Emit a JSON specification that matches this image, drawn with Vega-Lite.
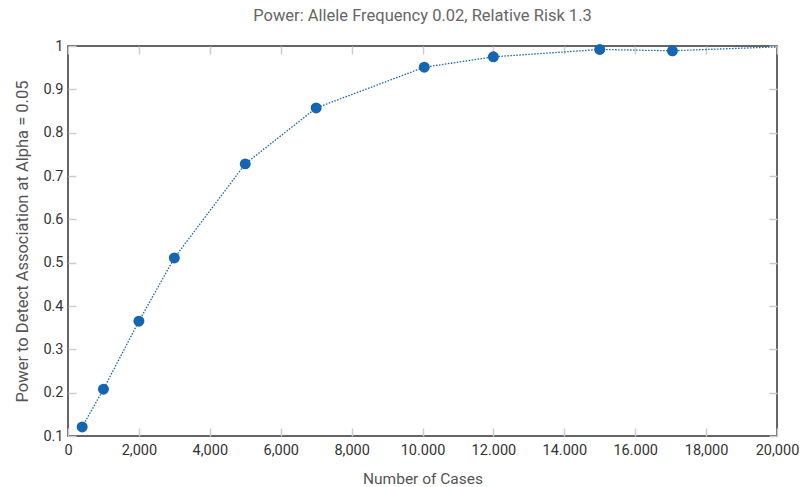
{
  "$schema": "https://vega.github.io/schema/vega-lite/v6.json",
  "width": 709,
  "height": 390,
  "autosize": {"type": "none"},
  "padding": {"left": 68, "top": 46, "right": 23, "bottom": 51},
  "background": "white",
  "title": {
    "text": "Power: Allele Frequency 0.02, Relative Risk 1.3",
    "font": "Roboto",
    "fontSize": 16.5,
    "fontWeight": "normal",
    "color": "#666666",
    "anchor": "middle",
    "offset": 14
  },
  "config": {
    "font": "Roboto",
    "view": {"stroke": "#333333", "strokeWidth": 1.5},
    "axis": {
      "grid": false,
      "domain": false,
      "labelFlush": false,
      "tickColor": "#cccccc",
      "tickWidth": 1.5,
      "tickSize": -8,
      "labelFont": "Roboto",
      "labelFontSize": 14.5,
      "labelColor": "#333333",
      "titleFont": "Roboto",
      "titleFontSize": 15.5,
      "titleFontWeight": "normal",
      "titleColor": "#555555"
    }
  },
  "data": {
    "values": [
      {"cases": 400, "power": 0.121, "marker": true},
      {"cases": 1000, "power": 0.208, "marker": true},
      {"cases": 2000, "power": 0.365, "marker": true},
      {"cases": 3000, "power": 0.511, "marker": true},
      {"cases": 5000, "power": 0.728, "marker": true},
      {"cases": 7000, "power": 0.857, "marker": true},
      {"cases": 10050, "power": 0.951, "marker": true},
      {"cases": 12000, "power": 0.975, "marker": true},
      {"cases": 15000, "power": 0.992, "marker": true},
      {"cases": 17050, "power": 0.989, "marker": true},
      {"cases": 20000, "power": 0.998, "marker": false}
    ]
  },
  "layer": [
    {
      "mark": {"type": "line", "color": "#1565b0", "strokeWidth": 1.3, "strokeDash": [1.5, 1.5]},
      "encoding": {
        "x": {
          "field": "cases", "type": "quantitative",
          "scale": {"domain": [0, 20000], "nice": false},
          "axis": {
            "title": "Number of Cases",
            "values": [0, 2000, 4000, 6000, 8000, 10000, 12000, 14000, 16000, 18000, 20000],
            "labelExpr": "datum.value >= 10000 && datum.value <= 16000 ? replace(format(datum.value, ','), ',', '.') : format(datum.value, ',')",
            "labelPadding": 15,
            "titlePadding": 15
          }
        },
        "y": {
          "field": "power", "type": "quantitative",
          "scale": {"domain": [0.1, 1], "nice": false, "zero": false},
          "axis": {
            "title": "Power to Detect Association at Alpha = 0.05",
            "titleFontSize": 16.5,
            "values": [0.1, 0.2, 0.3, 0.4, 0.5, 0.6, 0.7, 0.8, 0.9, 1],
            "labelExpr": "format(datum.value, '.1~f')",
            "labelPadding": 13,
            "titlePadding": 12
          }
        }
      }
    },
    {
      "transform": [{"filter": "datum.marker"}],
      "mark": {"type": "point", "filled": true, "opacity": 1, "color": "#1565b0", "size": 120},
      "encoding": {
        "x": {"field": "cases", "type": "quantitative", "axis": null},
        "y": {"field": "power", "type": "quantitative", "axis": null}
      }
    },
    {
      "mark": {"type": "rule", "opacity": 0},
      "encoding": {
        "x": {"field": "cases", "type": "quantitative", "axis": {"orient": "top", "labels": false, "title": null, "values": [0, 2000, 4000, 6000, 8000, 10000, 12000, 14000, 16000, 18000, 20000]}},
        "y": {"field": "power", "type": "quantitative", "axis": {"orient": "right", "labels": false, "title": null, "values": [0.1, 0.2, 0.3, 0.4, 0.5, 0.6, 0.7, 0.8, 0.9, 1]}}
      }
    }
  ],
  "resolve": {"axis": {"x": "independent", "y": "independent"}}
}
